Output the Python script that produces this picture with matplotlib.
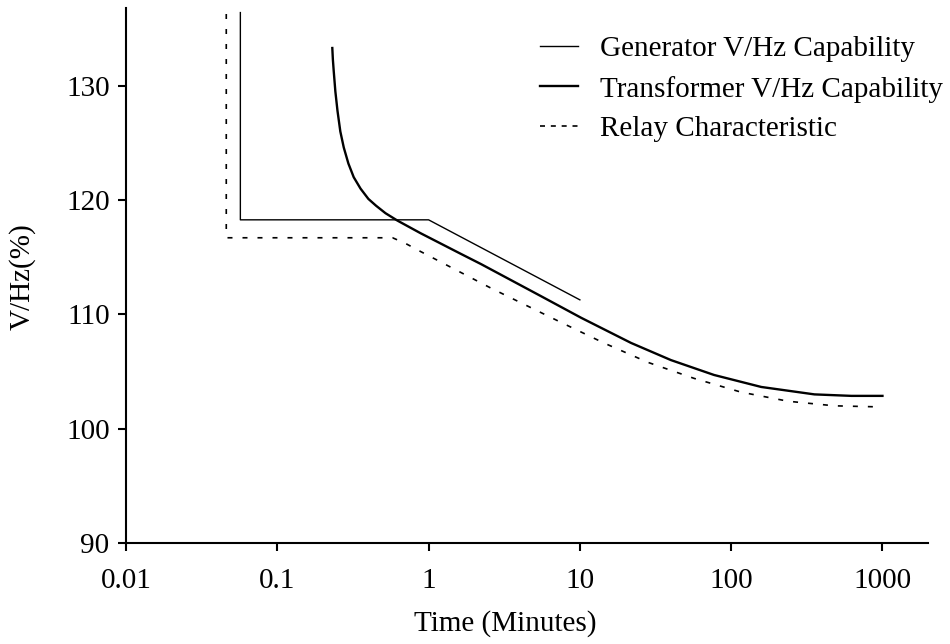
import matplotlib
matplotlib.use('Agg')
import matplotlib.pyplot as plt
from matplotlib.lines import Line2D
from matplotlib.ticker import FixedLocator, FixedFormatter, NullLocator

# ---- data ----
gen_t = [0.057, 0.057, 1.0, 10.0]
gen_v = [136.4, 118.27, 118.27, 111.27]

xfmr_t = [0.231, 0.233, 0.236, 0.242, 0.25, 0.261, 0.275, 0.295, 0.32, 0.355,
          0.40, 0.45, 0.519, 0.623, 0.885, 1.63, 2.22, 5.52, 10.2, 21.8, 40,
          77, 158, 355, 623, 1000]
xfmr_v = [133.3, 132.3, 131.3, 129.5, 127.8, 126.0, 124.6, 123.2, 122.0, 121.0,
          120.1, 119.5, 118.85, 118.2, 117.1, 115.3, 114.4, 111.6, 109.7, 107.5,
          106.0, 104.7, 103.65, 103.0, 102.87, 102.87]

relay_t = [0.046, 0.046, 0.578, 0.705, 0.885, 2.58, 7.5, 14.4, 28.2, 56.9,
           116, 238, 481, 1000]
relay_v = [140, 116.7, 116.7, 116.2, 115.5, 112.3, 109.3, 107.5, 105.8, 104.4,
           103.2, 102.4, 102.0, 101.9]

x_ticks = [0.01, 0.1, 1, 10, 100, 1000]
x_tick_labels = ['0.01', '0.1', '1', '10', '100', '1000']
y_ticks = [90, 100, 110, 120, 130]
y_tick_labels = ['90', '100', '110', '120', '130']

labels = ['Generator V/Hz Capability', 'Transformer V/Hz Capability',
          'Relay Characteristic']

# ---- figure ----
FS = 21
plt.rcParams['font.family'] = ['Liberation Serif', 'DejaVu Serif']
plt.rcParams['font.size'] = FS

fig = plt.figure(figsize=(9.5, 6.44), dpi=100)
ax = fig.add_axes([126/950, 101/644, 802/950, 535/644])

ax.plot(gen_t, gen_v, color='black', lw=1.0)
ax.plot(xfmr_t, xfmr_v, color='black', lw=1.7)
ax.plot(relay_t, relay_v, color='black', lw=1.2, dashes=(3, 6))

ax.set_xscale('log')
ax.set_xlim(0.01, 2000)
ax.set_ylim(90, 136.8)

ax.xaxis.set_major_locator(FixedLocator(x_ticks))
ax.xaxis.set_major_formatter(FixedFormatter(x_tick_labels))
ax.xaxis.set_minor_locator(NullLocator())
ax.yaxis.set_major_locator(FixedLocator(y_ticks))
ax.yaxis.set_major_formatter(FixedFormatter(y_tick_labels))

for s in ['top', 'right']:
    ax.spines[s].set_visible(False)
for s in ['left', 'bottom']:
    ax.spines[s].set_linewidth(1.5)
ax.tick_params(axis='both', direction='out', length=5.8, width=1.5,
               labelsize=FS)
ax.tick_params(axis='y', pad=6)
ax.tick_params(axis='x', pad=12)

fig.text(22/950, 1 - 277/644, 'V/Hz(%)', rotation=90, ha='center',
         va='center', fontsize=FS)
fig.text(505/950, 1 - 624/644, 'Time (Minutes)', ha='center', va='center',
         fontsize=FS)

handles = [Line2D([], [], color='black', lw=1.0),
           Line2D([], [], color='black', lw=1.7),
           Line2D([], [], color='black', lw=1.2, dashes=(3, 3.5))]
fig.legend(handles, labels, loc='upper left',
           bbox_to_anchor=(540/950, 1 - 36/644), frameon=False,
           borderpad=0, borderaxespad=0, handlelength=1.3,
           handletextpad=0.75, labelspacing=0.45, fontsize=FS)

fig.savefig('out.png', dpi=100)
